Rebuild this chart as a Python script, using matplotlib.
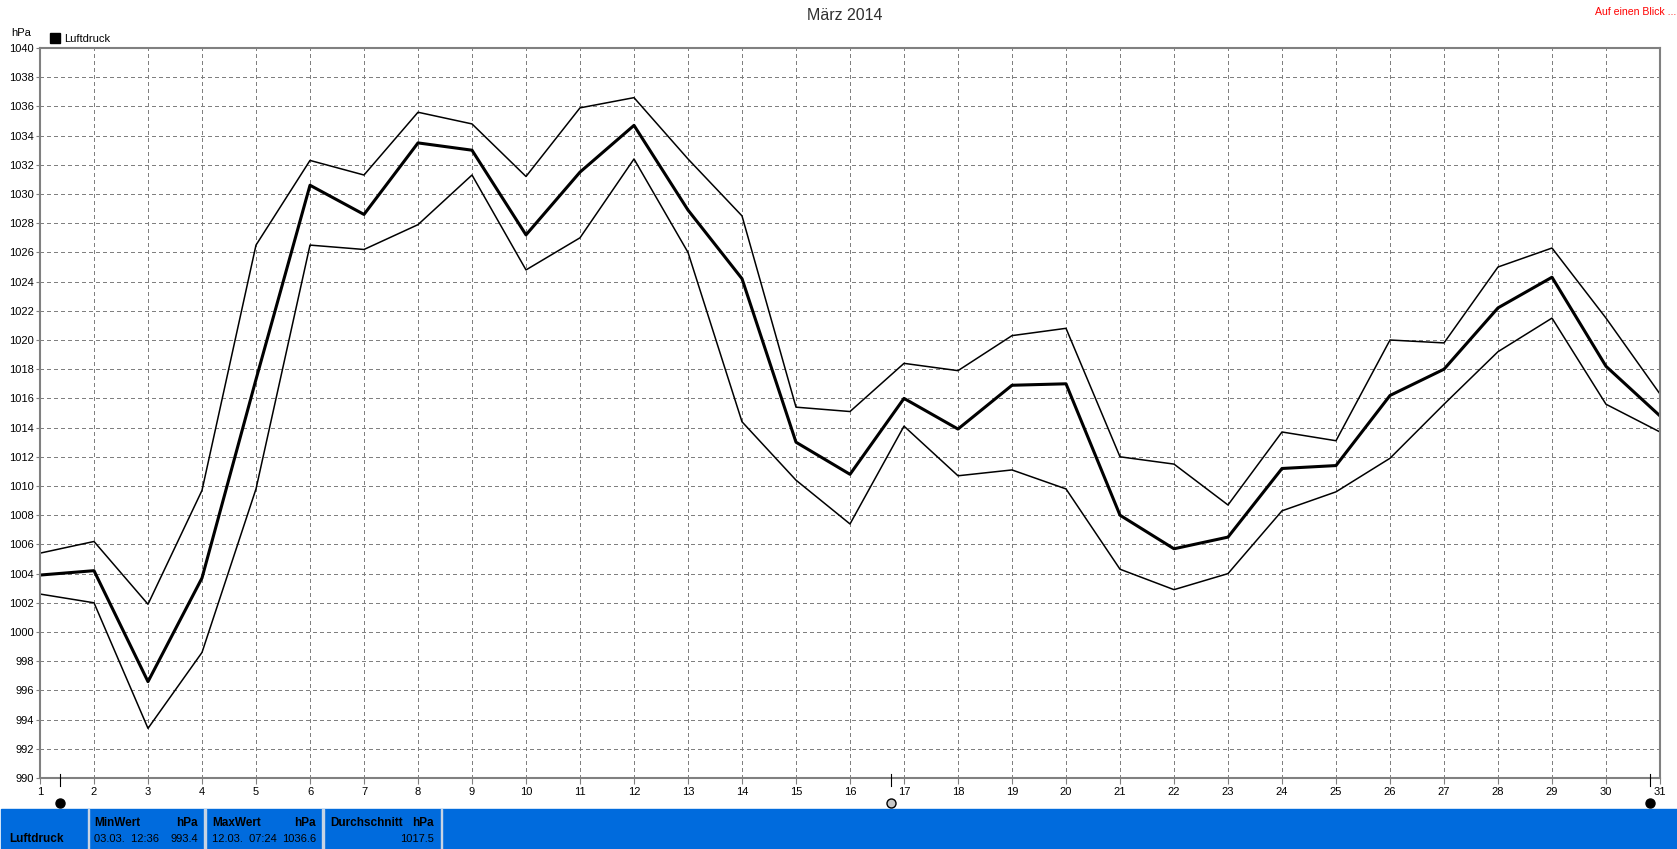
import matplotlib
matplotlib.use('Agg')
import matplotlib.pyplot as plt
from matplotlib.patches import Rectangle

W, H = 1677, 849

days = list(range(1, 32))
druck_max = [1005.4, 1006.2, 1001.9, 1009.7, 1026.5, 1032.3, 1031.3, 1035.6, 1034.8, 1031.2, 1035.9,
             1036.6, 1032.4, 1028.5, 1015.4, 1015.1, 1018.4, 1017.9, 1020.3, 1020.8, 1012.0, 1011.5,
             1008.7, 1013.7, 1013.1, 1020.0, 1019.8, 1025.0, 1026.3, 1021.5, 1016.3]
druck_mean = [1003.9, 1004.2, 996.6, 1003.7, 1017.3, 1030.6, 1028.6, 1033.5, 1033.0, 1027.2, 1031.5,
              1034.7, 1028.9, 1024.2, 1013.0, 1010.8, 1016.0, 1013.9, 1016.9, 1017.0, 1008.0, 1005.7,
              1006.5, 1011.2, 1011.4, 1016.2, 1018.0, 1022.2, 1024.3, 1018.2, 1014.8]
druck_min = [1002.6, 1002.0, 993.4, 998.6, 1009.8, 1026.5, 1026.2, 1027.9, 1031.3, 1024.8, 1027.0,
             1032.4, 1026.0, 1014.4, 1010.4, 1007.4, 1014.1, 1010.7, 1011.1, 1009.8, 1004.3, 1002.9,
             1004.0, 1008.3, 1009.6, 1011.9, 1015.6, 1019.2, 1021.5, 1015.6, 1013.7]
y_ticks = list(range(990, 1041, 2))
moon_days = [1.37, 16.76, 30.82]
moon_colors = ['black', '#c8c8c8', 'black']

plt.rcParams['font.family'] = ['Liberation Sans', 'DejaVu Sans']

fig = plt.figure(figsize=(W / 100, H / 100), dpi=100, facecolor='white')
ax = fig.add_axes([40 / W, 1 - 778 / H, 1620 / W, 730 / H])
ax.set_xlim(1, 31)
ax.set_ylim(990, 1040)
ax.set_xticks(days)
ax.set_yticks(y_ticks)
ax.tick_params(axis='both', labelsize=8, length=3, width=0.8, color='#808080', pad=1.5)
ax.tick_params(axis='x', pad=2.5, length=4)
ax.grid(True, color='#808080', linestyle=(0, (4, 3)), linewidth=0.72, antialiased=False)
for s in ax.spines.values():
    s.set_color('#808080')
    s.set_linewidth(1.5)

ax.plot(days, druck_max, color='black', lw=1.1)
ax.plot(days, druck_min, color='black', lw=1.1)
ax.plot(days, druck_mean, color='black', lw=2.2)

# mondphasen unter der achse
for d, c in zip(moon_days, moon_colors):
    px = 40 + (d - 1) * 54
    fig.add_artist(plt.Line2D([px / W, px / W], [1 - 774 / H, 1 - 786 / H], color='black', lw=0.8))
    fig.add_artist(plt.Line2D([px / W], [1 - 803 / H], marker='o', ms=6.5, mfc=c, mec='black', mew=1))

fig.text(845 / W, 1 - 16 / H, 'März 2014', ha='center', va='center', fontsize=11.5, color='#303030')
fig.text(1676 / W, 1 - 12 / H, 'Auf einen Blick ...', ha='right', va='center', fontsize=7.6, color='red')
fig.text(11 / W, 1 - 33 / H, 'hPa', ha='left', va='center', fontsize=8)
fig.add_artist(Rectangle((50 / W, 1 - 43 / H), 10 / W, 10 / H, color='black', transform=fig.transFigure))
fig.text(64 / W, 1 - 38.5 / H, 'Luftdruck', ha='left', va='center', fontsize=8)

# blaue leiste
fig.add_artist(Rectangle((1 / W, 0), 1, 40 / H, color='#006bdd', transform=fig.transFigure))
for x in [87.5, 204, 322, 440.5]:
    fig.add_artist(Rectangle((x / W, 0), 1.5 / W, 40 / H, color='#c8d4e4', transform=fig.transFigure))


def bar_text(x, y, s, ha='left', bold=False):
    fig.text(x / W, 1 - y / H, s, ha=ha, va='center', fontsize=8.5 if bold else 8, color='black',
             fontweight='bold' if bold else 'normal')


bar_text(9, 839, 'Luftdruck', bold=True)
bar_text(94, 823, 'MinWert', bold=True)
bar_text(198, 823, 'hPa', ha='right', bold=True)
bar_text(94, 839, '03.03.  12:36')
bar_text(198, 839, '993.4', ha='right')
bar_text(212, 823, 'MaxWert', bold=True)
bar_text(316, 823, 'hPa', ha='right', bold=True)
bar_text(212, 839, '12.03.  07:24')
bar_text(316, 839, '1036.6', ha='right')
bar_text(330, 823, 'Durchschnitt', bold=True)
bar_text(434, 823, 'hPa', ha='right', bold=True)
bar_text(434, 839, '1017.5', ha='right')

fig.savefig('out.png', dpi=100, facecolor='white')
